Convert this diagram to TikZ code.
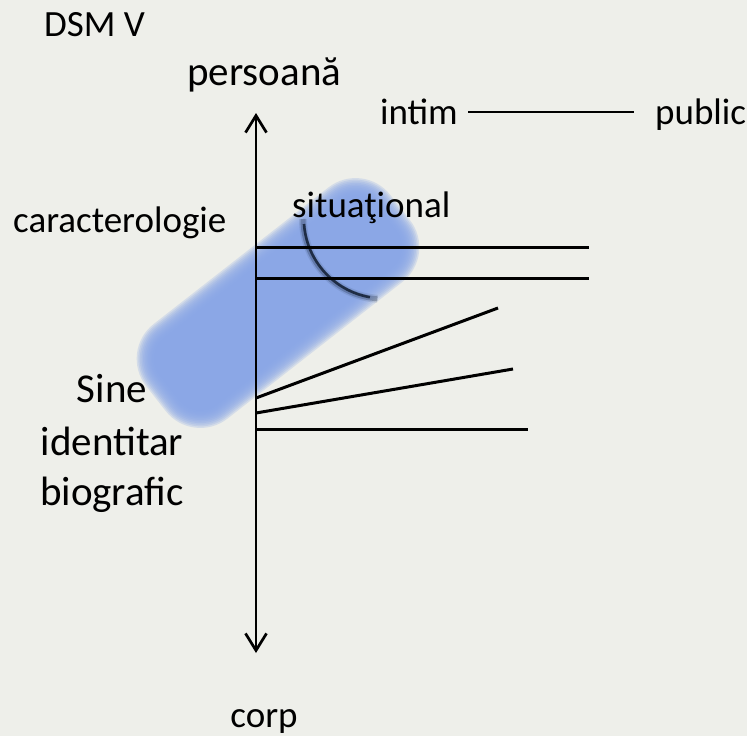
\documentclass[tikz,border=0pt]{standalone}
\usepackage{fontspec}
\setmainfont{Carlito}
\usepackage{xcolor}
\usetikzlibrary{arrows.meta,positioning}

\definecolor{slidebg}{RGB}{238,239,234}
\definecolor{blobblue}{RGB}{138,167,230}
\definecolor{arcnavy}{RGB}{20,32,52}

\begin{document}
\begin{tikzpicture}[x=1pt, y=-1pt,
    lbl/.style={inner sep=0pt, font=\fontsize{37}{44}\selectfont},
    biglbl/.style={inner sep=0pt, font=\fontsize{41}{50}\selectfont},
    axis/.style={draw, line width=2.7pt, {Straight Barb[length=17pt,width=21pt]}-{Straight Barb[length=17pt,width=21pt]}},
    line/.style={draw, line width=3pt}]

    \fill[slidebg] (0,0) rectangle (747,736);
    \useasboundingbox (0,0) rectangle (747,736);

    % blurred capsule
    \begin{scope}[shift={(278,303)}, rotate=38]
        \foreach \i in {0,...,11}{
            \pgfmathsetmacro{\d}{1.6*\i}
            \pgfmathsetmacro{\r}{44-1.6*\i}
            \fill[blobblue, fill opacity=0.25, rounded corners=\r pt]
                (-155+\d,-60+\d) rectangle (155-\d,60-\d);
        }
    \end{scope}

    % dark arc
    \draw[arcnavy, line width=8pt, draw opacity=0.1] (303,219) arc[start angle=180, end angle=266, radius=80pt];
    \draw[arcnavy, line width=5pt, draw opacity=0.25] (303,219) arc[start angle=180, end angle=266, radius=80pt];
    \draw[arcnavy, line width=2.6pt, draw opacity=0.85] (304,224) arc[start angle=184, end angle=260, radius=80pt];

    % texts
    \node [lbl, anchor=base west] (dsm) at (44,36) {DSM V};
    \node [biglbl, anchor=base west] (persoana) at (187,85) {persoană};
    \node [lbl, anchor=base east] (intim) at (458,124) {intim};
    \node [lbl, anchor=base west] (public) at (655,124) {public};
    \node [lbl, anchor=base west] (caract) at (13,232) {caracterologie};
    \node [lbl, anchor=base west] (situat) at (292,217) {situaţional};
    \node [biglbl, anchor=base] (sine) at (112,402) {Sine};
    \node [biglbl, anchor=base] (identitar) at (112,455) {identitar};
    \node [biglbl, anchor=base] (biografic) at (112,505) {biografic};
    \node [lbl, anchor=base] (corp) at (264,727) {corp};

    % axis
    \coordinate (ptop) at (256,113);
    \coordinate (pbot) at (256,653);
    \draw [axis] (pbot) -- (ptop);

    % intim -- public
    \coordinate (ileft) at (468,112);
    \coordinate (iright) at (634,112);
    \draw [line, line width=2.7pt] (ileft) -- (iright);

    % lines from the axis
    \coordinate (a1) at (256,247);
    \coordinate (b1) at (589,247);
    \coordinate (a2) at (256,278);
    \coordinate (b2) at (589,278);
    \coordinate (a3) at (256,398);
    \coordinate (b3) at (498,308);
    \coordinate (a4) at (256,413);
    \coordinate (b4) at (513,369);
    \coordinate (a5) at (256,429);
    \coordinate (b5) at (528,429);
    \draw [line] (a1) -- (b1);
    \draw [line] (a2) -- (b2);
    \draw [line] (a3) -- (b3);
    \draw [line] (a4) -- (b4);
    \draw [line] (a5) -- (b5);
\end{tikzpicture}
\end{document}
